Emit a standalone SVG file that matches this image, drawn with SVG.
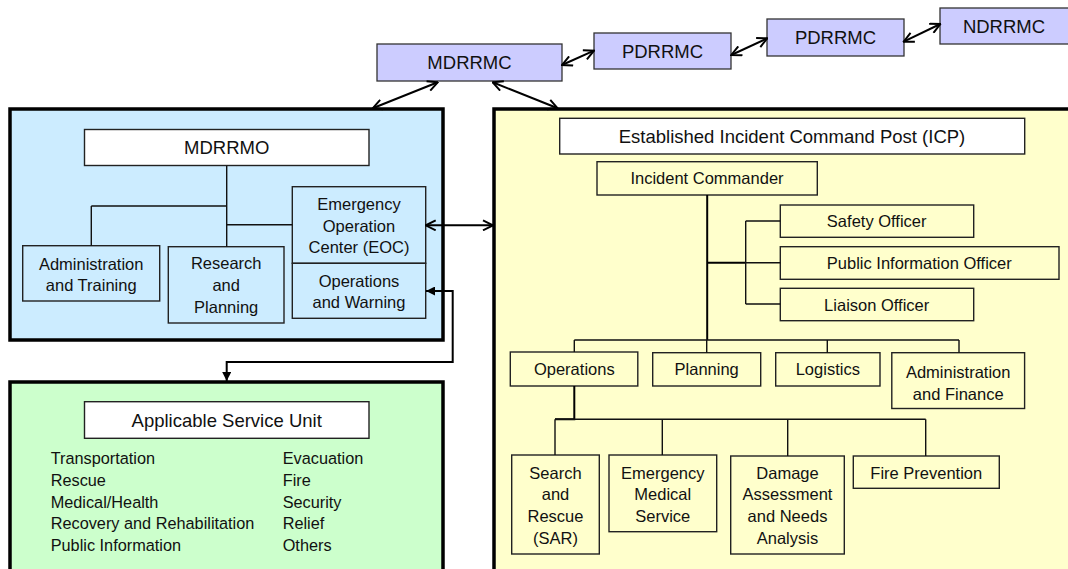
<svg xmlns="http://www.w3.org/2000/svg" width="1068" height="569" viewBox="0 0 1068 569">
<style>
text{font-family:"Liberation Sans",Arial,sans-serif;fill:#111;text-anchor:middle}
.t18{font-size:18.5px}
.t16{font-size:16.5px}
.lst{font-size:16.3px;text-anchor:start}
.top{fill:#CCCCFF;stroke:#333;stroke-width:1.3}
.outer{stroke:#000;stroke-width:3.5}
.box{fill:none;stroke:#222;stroke-width:1.4}
.wbox{fill:#fff;stroke:#222;stroke-width:1.4}
.ln{fill:none;stroke:#111;stroke-width:1.4}
.ln2{fill:none;stroke:#000;stroke-width:2}
.arr{fill:none;stroke:#000;stroke-width:2;marker-start:url(#oa);marker-end:url(#oa)}
.arr2{fill:none;stroke:#000;stroke-width:2;marker-start:url(#fa);marker-end:url(#fa)}
</style>
<defs>
<marker id="oa" viewBox="0 0 12 12" refX="11" refY="6" markerWidth="12" markerHeight="12" markerUnits="userSpaceOnUse" orient="auto-start-reverse">
<path d="M1,1 L11,6 L1,11" fill="none" stroke="#000" stroke-width="2"/>
</marker>
<marker id="fa" viewBox="0 0 10 10" refX="10" refY="5" markerWidth="9" markerHeight="9" markerUnits="userSpaceOnUse" orient="auto-start-reverse">
<path d="M0,0 L10,5 L0,10 z" fill="#000"/>
</marker>
</defs>
<rect width="1068" height="569" fill="#fff"/>

<!-- containers -->
<g id="blue-panel"><rect class="outer" x="10" y="109" width="433" height="231" fill="#CCECFF"/></g>
<g id="green-panel"><rect class="outer" x="10" y="382" width="433" height="200" fill="#CCFFCC"/></g>
<g id="yellow-panel"><rect class="outer" x="494" y="109" width="590" height="480" fill="#FFFFCC"/></g>

<!-- top chain -->
<g id="mdrrmc"><rect class="top" x="377" y="44" width="185" height="37"/><text class="t18" x="469.5" y="69">MDRRMC</text></g>
<g id="pdrrmc1"><rect class="top" x="594" y="33" width="137" height="36"/><text class="t18" x="662.5" y="57.5">PDRRMC</text></g>
<g id="pdrrmc2"><rect class="top" x="767" y="19" width="137" height="37"/><text class="t18" x="835.5" y="44">PDRRMC</text></g>
<g id="ndrrmc"><rect class="top" x="940" y="8" width="140" height="36"/><text class="t18" x="1004" y="32.5">NDRRMC</text></g>

<!-- blue panel nodes -->
<g id="mdrrmo"><rect class="wbox" x="84.5" y="129.5" width="284.5" height="36"/><text class="t18" x="226.7" y="154">MDRRMO</text></g>
<g id="admin-training"><rect class="box" x="22.7" y="245.7" width="137" height="55.3"/><text class="t16" x="91.2" y="269.5">Administration</text><text class="t16" x="91.2" y="290.5">and Training</text></g>
<g id="research-planning"><rect class="box" x="168.3" y="246.7" width="115.7" height="76.3"/><text class="t16" x="226.2" y="269">Research</text><text class="t16" x="226.2" y="291">and</text><text class="t16" x="226.2" y="313">Planning</text></g>
<g id="eoc"><rect class="box" x="292.3" y="186.7" width="133.4" height="76.6"/><text class="t16" x="359" y="209.7">Emergency</text><text class="t16" x="359" y="231.5">Operation</text><text class="t16" x="359" y="253.3">Center (EOC)</text></g>
<g id="ops-warning"><rect class="box" x="292.3" y="263.3" width="133.4" height="55"/><text class="t16" x="359" y="286.7">Operations</text><text class="t16" x="359" y="308.3">and Warning</text></g>

<!-- green panel -->
<g id="asu"><rect class="wbox" x="84.5" y="401.7" width="284.5" height="36.6"/><text class="t18" x="226.7" y="426.5">Applicable Service Unit</text>
<text class="lst" x="50.7" y="464.3">Transportation</text>
<text class="lst" x="50.7" y="486">Rescue</text>
<text class="lst" x="50.7" y="507.7">Medical/Health</text>
<text class="lst" x="50.7" y="529.3">Recovery and Rehabilitation</text>
<text class="lst" x="50.7" y="551">Public Information</text>
<text class="lst" x="282.7" y="464.3">Evacuation</text>
<text class="lst" x="282.7" y="486">Fire</text>
<text class="lst" x="282.7" y="507.7">Security</text>
<text class="lst" x="282.7" y="529.3">Relief</text>
<text class="lst" x="282.7" y="551">Others</text>
</g>

<!-- yellow panel nodes -->
<g id="icp"><rect class="wbox" x="559.7" y="118.3" width="465" height="35.7"/><text class="t18" x="792" y="142.7">Established Incident Command Post (ICP)</text></g>
<g id="incident-commander"><rect class="box" x="597" y="161.7" width="220.3" height="33.3"/><text class="t16" x="707" y="184.3">Incident Commander</text></g>
<g id="safety-officer"><rect class="box" x="780.3" y="205" width="193.4" height="32.3"/><text class="t16" x="876.7" y="227.3">Safety Officer</text></g>
<g id="pio"><rect class="box" x="780.3" y="246.7" width="278.7" height="32.6"/><text class="t16" x="919.3" y="269">Public Information Officer</text></g>
<g id="liaison-officer"><rect class="box" x="780.3" y="288.3" width="193.4" height="32.4"/><text class="t16" x="876.7" y="310.5">Liaison Officer</text></g>
<g id="operations"><rect class="box" x="510.3" y="352" width="127.5" height="34"/><text class="t16" x="574.3" y="375">Operations</text></g>
<g id="planning"><rect class="box" x="652.7" y="352.7" width="108" height="33.3"/><text class="t16" x="706.7" y="375.3">Planning</text></g>
<g id="logistics"><rect class="box" x="775.7" y="352.7" width="104.3" height="33.3"/><text class="t16" x="827.8" y="375.3">Logistics</text></g>
<g id="admin-finance"><rect class="box" x="891.8" y="352.7" width="132.8" height="55.8"/><text class="t16" x="958.2" y="377.7">Administration</text><text class="t16" x="958.2" y="399.5">and Finance</text></g>
<g id="sar"><rect class="box" x="511.7" y="455" width="87.6" height="99"/><text class="t16" x="555.5" y="478.5">Search</text><text class="t16" x="555.5" y="500">and</text><text class="t16" x="555.5" y="521.7">Rescue</text><text class="t16" x="555.5" y="543.5">(SAR)</text></g>
<g id="ems"><rect class="box" x="609" y="455" width="107.7" height="76.7"/><text class="t16" x="662.8" y="478.5">Emergency</text><text class="t16" x="662.8" y="500">Medical</text><text class="t16" x="662.8" y="521.7">Service</text></g>
<g id="dana"><rect class="box" x="730.7" y="456" width="113.6" height="98"/><text class="t16" x="787.5" y="478.5">Damage</text><text class="t16" x="787.5" y="500">Assessment</text><text class="t16" x="787.5" y="521.7">and Needs</text><text class="t16" x="787.5" y="543.5">Analysis</text></g>
<g id="fire-prevention"><rect class="box" x="853.3" y="456" width="146" height="32.3"/><text class="t16" x="926.3" y="478.5">Fire Prevention</text></g>

<!-- connectors -->
<g id="connectors">
<path class="ln" d="M226.7,165.7 V246.7 M91.3,206 H226.7 M91.3,206 V245.7 M226.7,224.7 H292.3"/>
<path class="ln2" d="M707.2,195 V340"/>
<path class="ln2" d="M708,262.7 H745.7"/>
<path class="ln" d="M745.7,262.7 H780.3 M745.7,221 V304 M745.7,221 H780.3 M745.7,304 H780.3"/>
<path class="ln" d="M574.3,340 H959 M574.3,340 V352 M706.7,340 V352.7 M827.3,340 V352.7 M959,340 V352.7"/>
<path class="ln2" d="M574.3,386 V419.3 H555"/>
<path class="ln" d="M555,419.3 H925.7 M555,419.3 V455 M662.3,419.3 V455 M787.7,419.3 V456 M925.7,419.3 V456"/>
<line class="arr" x1="437.7" y1="82.3" x2="372.7" y2="108.3"/>
<line class="arr" x1="492.7" y1="82.3" x2="557.7" y2="108.3"/>
<line class="arr" x1="562" y1="65" x2="594" y2="50.7"/>
<line class="arr" x1="731.3" y1="55" x2="767.3" y2="38.3"/>
<line class="arr" x1="903.7" y1="41.7" x2="940.3" y2="24"/>
<line class="arr" x1="425.7" y1="225.3" x2="493" y2="225.3"/>
<path class="arr2" d="M426,291 H452.7 V362 H226.7 V381"/>
</g>
</svg>
